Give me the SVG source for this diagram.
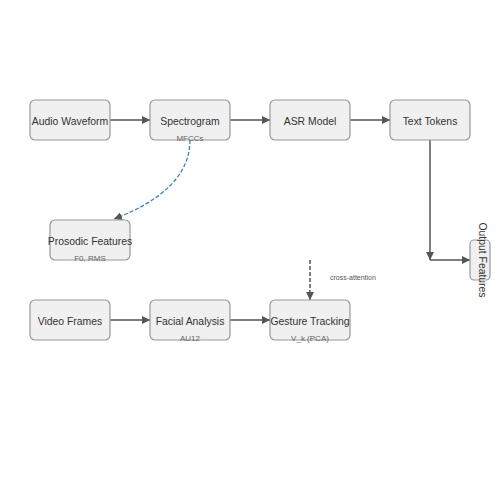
<svg xmlns="http://www.w3.org/2000/svg" width="500" height="500" viewBox="0 0 500 500">
<style>
.node rect{fill:#f0f0f0;stroke:#999;stroke-width:1.2}
.lbl{font-family:"Liberation Sans",Arial,sans-serif;font-size:10.4px;fill:#333;text-anchor:middle}
.sub{font-family:"Liberation Sans",Arial,sans-serif;font-size:8px;fill:#666;text-anchor:middle}
.note{font-family:"Liberation Sans",Arial,sans-serif;font-size:7px;fill:#555}
.edge{stroke:#555;stroke-width:1.5;fill:none}
.dash{stroke-dasharray:4,2}
.blue{stroke:#3a7fc1;stroke-width:1.3;fill:none;stroke-dasharray:4,2}
</style>
<defs>
<marker id="arr" viewBox="0 0 10 10" refX="10" refY="5" markerWidth="8" markerHeight="8" markerUnits="userSpaceOnUse" orient="auto">
<path d="M0,0 L10,5 L0,10 z" fill="#555"/>
</marker>
</defs>
<rect width="500" height="500" fill="#fff"/>
<g id="connectors">
<line class="edge" x1="110" y1="120" x2="150" y2="120" marker-end="url(#arr)"/>
<line class="edge" x1="230" y1="120" x2="270" y2="120" marker-end="url(#arr)"/>
<line class="edge" x1="350" y1="120" x2="390" y2="120" marker-end="url(#arr)"/>
<line class="edge" x1="430" y1="140" x2="430" y2="260" marker-end="url(#arr)"/>
<line class="edge" x1="430" y1="260" x2="470" y2="260" marker-end="url(#arr)"/>
<line class="edge" x1="110" y1="320" x2="150" y2="320" marker-end="url(#arr)"/>
<line class="edge" x1="230" y1="320" x2="270" y2="320" marker-end="url(#arr)"/>
<line class="edge dash" x1="310" y1="260" x2="310" y2="300" marker-end="url(#arr)"/>
<path class="blue" d="M190,140 Q190,190 114,219" marker-end="url(#arr)"/>
<text class="note" x="330" y="280">cross-attention</text>
</g>
<g id="audio-waveform" class="node"><rect x="30" y="100" width="80" height="40" rx="5"/><text class="lbl" x="70" y="124.5">Audio Waveform</text></g>
<g id="spectrogram" class="node"><rect x="150" y="100" width="80" height="40" rx="5"/><text class="lbl" x="190" y="124.5">Spectrogram</text><text class="sub" x="190" y="140.5">MFCCs</text></g>
<g id="asr-model" class="node"><rect x="270" y="100" width="80" height="40" rx="5"/><text class="lbl" x="310" y="124.5">ASR Model</text></g>
<g id="text-tokens" class="node"><rect x="390" y="100" width="80" height="40" rx="5"/><text class="lbl" x="430" y="124.5">Text Tokens</text></g>
<g id="prosodic-features" class="node"><rect x="50" y="220" width="80" height="40" rx="5"/><text class="lbl" x="90" y="244.5">Prosodic Features</text><text class="sub" x="90" y="260.5">F0, RMS</text></g>
<g id="video-frames" class="node"><rect x="30" y="300" width="80" height="40" rx="5"/><text class="lbl" x="70" y="324.5">Video Frames</text></g>
<g id="facial-analysis" class="node"><rect x="150" y="300" width="80" height="40" rx="5"/><text class="lbl" x="190" y="324.5">Facial Analysis</text><text class="sub" x="190" y="340.5">AU12</text></g>
<g id="gesture-tracking" class="node"><rect x="270" y="300" width="80" height="40" rx="5"/><text class="lbl" x="310" y="324.5">Gesture Tracking</text><text class="sub" x="310" y="340.5">V_k (PCA)</text></g>
<g id="output-features" class="node"><rect x="470" y="240" width="20" height="40" rx="4"/><text class="lbl" transform="translate(482,260) rotate(90)" x="0" y="0" dy="3.5">Output Features</text></g>
</svg>
